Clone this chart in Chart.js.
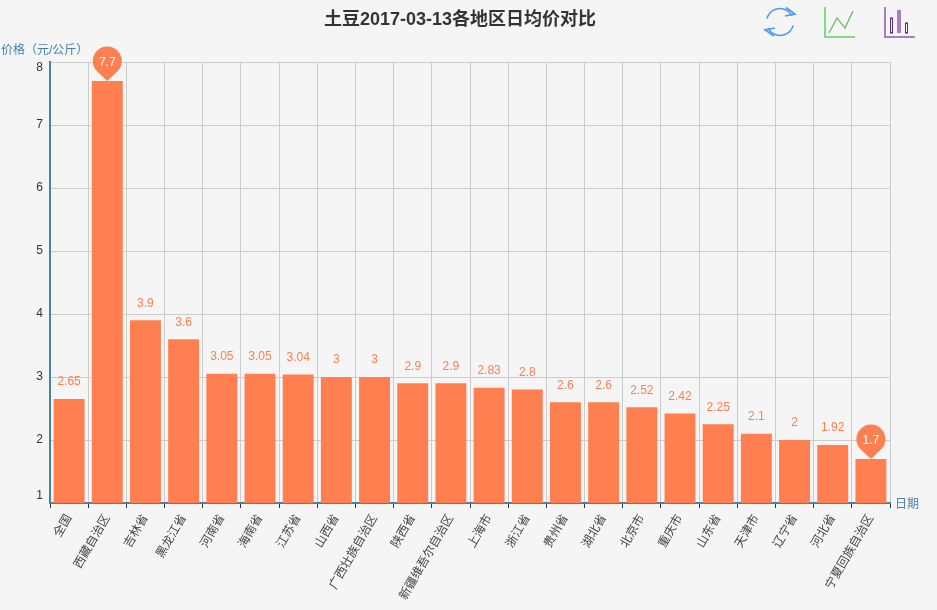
<!DOCTYPE html>
<html><head><meta charset="utf-8">
<script src="https://cdn.jsdelivr.net/npm/chart.js@4"></script>
<style>html,body{margin:0;padding:0;background:#f5f5f5}canvas{display:block}</style>
</head><body><canvas id="c" width="937" height="610"></canvas>
<script>
const categories = ["全国","西藏自治区","吉林省","黑龙江省","河南省","海南省","江苏省","山西省","广西壮族自治区","陕西省","新疆维吾尔自治区","上海市","浙江省","贵州省","湖北省","北京市","重庆市","山东省","天津市","辽宁省","河北省","宁夏回族自治区"];
const prices = [2.65,7.7,3.9,3.6,3.05,3.05,3.04,3,3,2.9,2.9,2.83,2.8,2.6,2.6,2.52,2.42,2.25,2.1,2,1.92,1.7];
const titleText = "土豆2017-03-13各地区日均价对比";
const yAxisName = "价格（元/公斤）";
const xAxisName = "日期";
const FONT = '"Liberation Sans","Noto Sans CJK SC",sans-serif';
const BAR = '#ff7f50', AXIS = '#4682a9';

const overlay = {
  id:'overlay',
  afterDatasetsDraw(chart){
    const {ctx,scales:{x,y}} = chart;
    const meta = chart.getDatasetMeta(0);
    const max = Math.max(...prices), min = Math.min(...prices);
    ctx.save();
    ctx.textBaseline='middle';
    // value labels and pins
    prices.forEach((v,i)=>{
      const el = meta.data[i];
      ctx.font = '12px '+FONT;
      if(v===max||v===min){
        const r=14.5, cy=el.y-20;
        ctx.fillStyle=BAR;
        ctx.beginPath();
        ctx.arc(el.x,cy,r,Math.PI*0.75,Math.PI*0.25);
        ctx.lineTo(el.x,el.y);
        ctx.closePath();
        ctx.fill();
        ctx.fillStyle='#fff';
        ctx.textAlign='center';
        ctx.fillText(String(v),el.x,cy+2);
      } else {
        ctx.fillStyle=BAR;
        ctx.textAlign='center';
        ctx.fillText(String(v),el.x,el.y-17);
      }
    });
    // end y ticks are nudged inside the axis
    ctx.fillStyle='#333';
    ctx.textAlign='right';
    ctx.font='12px '+FONT;
    ctx.fillText(String(y.max),43,y.getPixelForValue(y.max)+6);
    ctx.fillText(String(y.min),43,y.getPixelForValue(y.min)-7);
    // title
    ctx.fillStyle='#333';
    ctx.textAlign='center';
    ctx.font='bold 18px '+FONT;
    ctx.fillText(titleText,460,20);
    // axis names
    ctx.fillStyle=AXIS;
    ctx.font='12px '+FONT;
    ctx.textAlign='left';
    ctx.fillText(yAxisName,1,51);
    ctx.fillText(xAxisName,895,505);
    // toolbox: refresh
    ctx.lineWidth=1.6;
    ctx.strokeStyle='#4a9bef';
    ctx.beginPath();ctx.arc(780,22,13.5,Math.PI*1.08,Math.PI*1.85);ctx.stroke();
    ctx.beginPath();ctx.arc(780,22,13.5,Math.PI*0.08,Math.PI*0.85);ctx.stroke();
    ctx.beginPath();ctx.moveTo(786,7.5);ctx.lineTo(795,14);ctx.lineTo(785,16);ctx.stroke();
    ctx.beginPath();ctx.moveTo(775,28);ctx.lineTo(765,30);ctx.lineTo(774,36);ctx.stroke();
    // toolbox: line
    ctx.strokeStyle='#85d885';ctx.lineWidth=2;
    ctx.beginPath();ctx.moveTo(825,7);ctx.lineTo(825,37);ctx.lineTo(855,37);ctx.stroke();
    ctx.strokeStyle='#5cb85c';ctx.lineWidth=1.2;
    ctx.beginPath();ctx.moveTo(829,33);ctx.lineTo(837,18);ctx.lineTo(845,28);ctx.lineTo(853,11);ctx.stroke();
    // toolbox: bar
    ctx.strokeStyle='#a57fc0';ctx.lineWidth=2;
    ctx.beginPath();ctx.moveTo(885,7);ctx.lineTo(885,37);ctx.lineTo(915,37);ctx.stroke();
    ctx.fillStyle='#a57fc0';ctx.fillRect(897,10,4,23);
    ctx.strokeStyle='#5b2d82';ctx.lineWidth=1;
    ctx.strokeRect(890.5,18,2,15);ctx.strokeRect(905.5,23,2,10);
    ctx.restore();
  }
};

new Chart(document.getElementById('c'),{
  type:'bar',
  data:{labels:categories,datasets:[{data:prices,backgroundColor:BAR,barPercentage:0.81,categoryPercentage:1}]},
  options:{
    responsive:false,animation:false,devicePixelRatio:1,
    layout:{padding:{top:62,right:47,left:0,bottom:0}},
    plugins:{legend:{display:false},title:{display:false},tooltip:{enabled:false}},
    scales:{
      x:{
        afterFit(s){s.height=107;},
        border:{color:AXIS,width:2},
        grid:{color:'#ccc',lineWidth:1,tickColor:'#333',tickLength:5},
        ticks:{autoSkip:false,maxRotation:60,minRotation:60,color:'#444',padding:4,labelOffset:0,font:{size:12,family:FONT}}
      },
      y:{
        min:1,max:8,
        afterFit(s){s.width=50;},
        border:{color:AXIS,width:2},
        grid:{color:'#ccc',lineWidth:1,drawTicks:false},
        ticks:{stepSize:1,padding:7,color:'#333',font:{size:12,family:FONT},
          callback(v){return (v===1||v===8)?'':String(v);}}
      }
    }
  },
  plugins:[overlay]
});
</script></body></html>
